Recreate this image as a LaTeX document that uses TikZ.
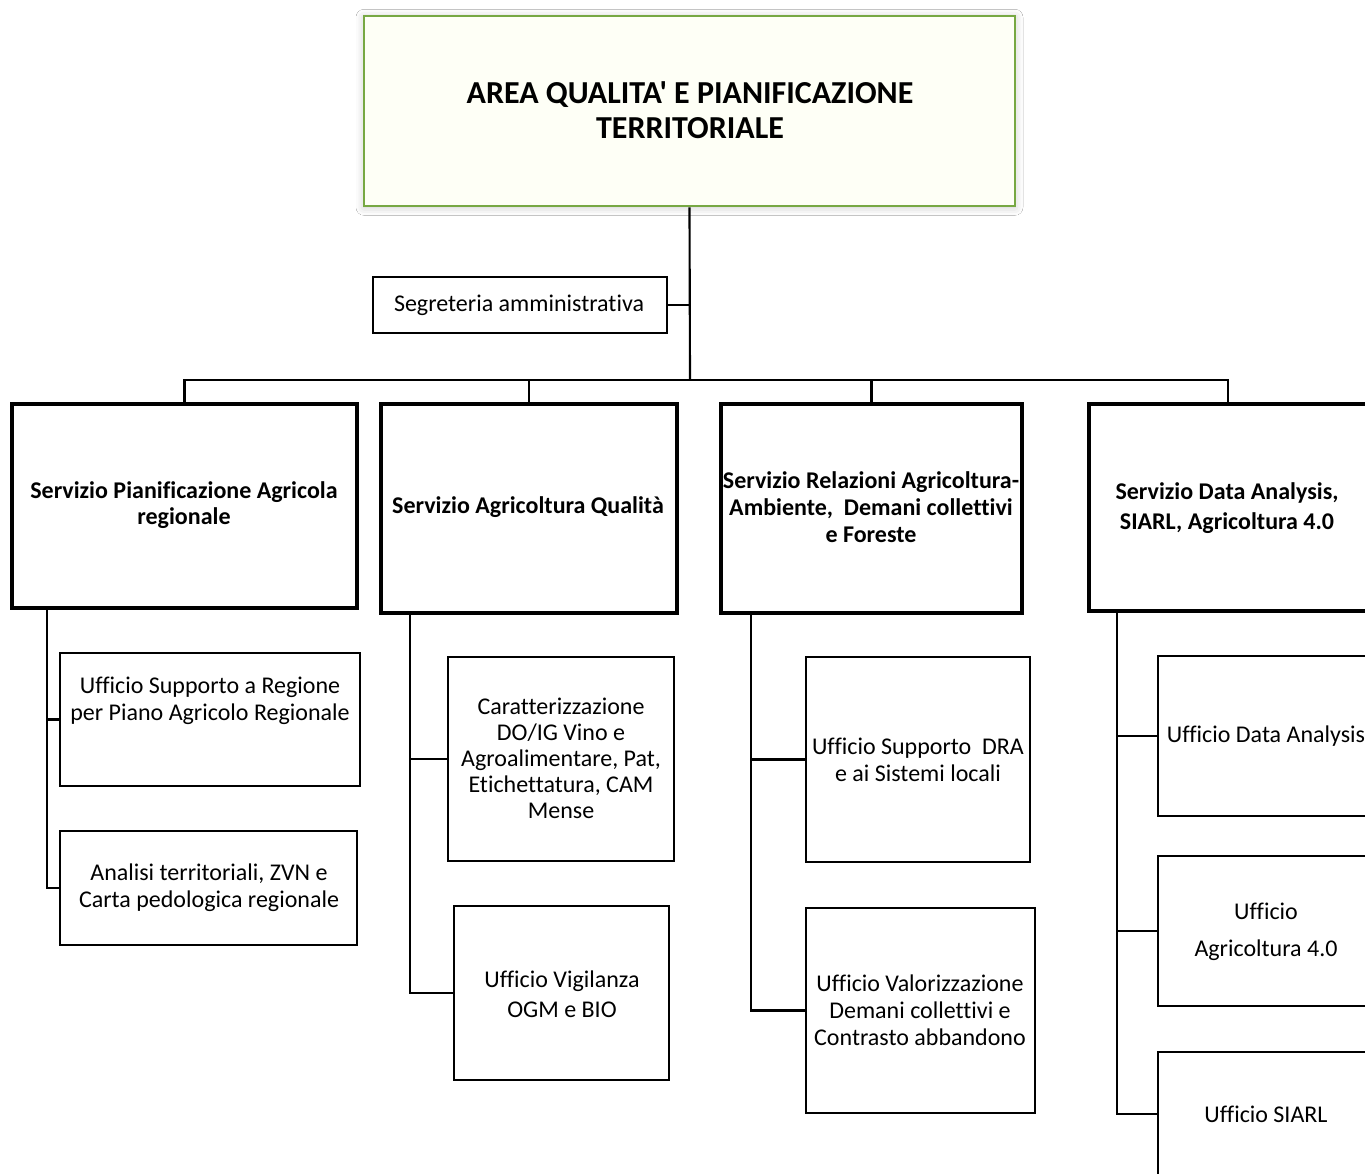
\documentclass[tikz,border=0pt]{standalone}
\usepackage{fontspec}
\setmainfont{Carlito}[Ligatures={TeXOff,NoCommon}]
\usetikzlibrary{fit,shadows.blur}
\definecolor{topgreen}{HTML}{77A843}
\definecolor{topfill}{HTML}{FEFFF6}
\tikzset{
  px/.style={x=0.75pt,y=-0.75pt},
  thinbox/.style={draw=black,line width=1.6pt,inner sep=0pt,fill=white},
  thickbox/.style={draw=black,line width=3.4pt,inner sep=0pt,fill=white},
  topbox/.style={draw=topgreen,line width=2.2pt,fill=topfill,inner sep=0pt,
     blur shadow={shadow xshift=0pt,shadow yshift=-1pt,shadow blur radius=6pt,shadow opacity=22}},
  conn/.style={draw=black,line width=1.6pt},
  txt/.style={align=center,inner sep=0pt,font=\fontsize{18}{20.2}\selectfont},
  btxt/.style={align=center,inner sep=0pt,font=\bfseries\fontsize{18}{19.5}\selectfont},
  ttxt/.style={align=center,inner sep=0pt,font=\bfseries\fontsize{24}{26}\selectfont},
}
\begin{document}
\begin{tikzpicture}[px]
\useasboundingbox (0,0) rectangle (1365,1174);
\clip (0,0) rectangle (1365,1174);
\fill[white] (0,0) rectangle (1365,1174);

% top
\node[topbox,fit={(364,16) (1015,206)}] (top) {};
\node[ttxt] (topt) at (690,110) {AREA QUALITA' E PIANIFICAZIONE\\TERRITORIALE};

% segreteria
\node[thinbox,fit={(373,277) (667,333)}] (seg) {};
\node[txt] (segt) at (519,305) {Segreteria amministrativa};

% services
\node[thickbox,fit={(12,404) (357,608)}] (s1) {};
\node[thickbox,fit={(381,404) (677,613)}] (s2) {};
\node[thickbox,fit={(721,404) (1022,613)}] (s3) {};
\node[thickbox,fit={(1089,404) (1367,611)}] (s4) {};
\node[btxt] (s1t) at (184,505) {Servizio Pianificazione Agricola\\regionale};
\node[btxt] (s2t) at (528,507) {Servizio Agricoltura Qualità};
\node[btxt,font=\bfseries\fontsize{18}{20}\selectfont] (s3t) at (871,507) {Servizio Relazioni Agricoltura-\\Ambiente,\ \ Demani collettivi\\e Foreste};
\node[btxt,font=\bfseries\fontsize{18}{22.5}\selectfont] (s4t) at (1227,508) {Servizio Data Analysis,\\SIARL, Agricoltura 4.0};

% offices
\node[thinbox,fit={(60,653) (360,786)}] (u1) {};
\node[thinbox,fit={(60,831) (357,945)}] (u2) {};
\node[thinbox,fit={(448,657) (674,861)}] (c1) {};
\node[thinbox,fit={(454,906) (669,1080)}] (c2) {};
\node[thinbox,fit={(806,657) (1030,862)}] (d1) {};
\node[thinbox,fit={(806,908) (1035,1113)}] (d2) {};
\node[thinbox,fit={(1158,656) (1375,816)}] (e1) {};
\node[thinbox,fit={(1158,856) (1375,1006)}] (e2) {};
\node[thinbox,fit={(1158,1052) (1375,1176)}] (e3) {};

\node[txt] (u1t) at (210,700.5) {Ufficio Supporto a Regione\\per Piano Agricolo Regionale};
\node[txt] (u2t) at (209,887.5) {Analisi territoriali, ZVN e\\Carta pedologica regionale};
\node[txt,font=\fontsize{18}{19.6}\selectfont] (c1t) at (561,758.5) {Caratterizzazione\\DO/IG Vino e\\Agroalimentare, Pat,\\Etichettatura, CAM\\Mense};
\node[txt,font=\fontsize{18}{22.5}\selectfont] (c2t) at (562,994) {Ufficio Vigilanza\\OGM e BIO};
\node[txt] (d1t) at (918,759.5) {Ufficio Supporto\ \ DRA\\e ai Sistemi locali};
\node[txt] (d2t) at (920,1010.5) {Ufficio Valorizzazione\\Demani collettivi e\\Contrasto abbandono};
\node[txt] (e1t) at (1266,736) {Ufficio Data Analysis};
\node[txt,font=\fontsize{18}{27.7}\selectfont] (e2t) at (1266,931.5) {Ufficio\\Agricoltura 4.0};
\node[txt] (e3t) at (1266,1114) {Ufficio SIARL};

% connectors
\coordinate (bar) at (690,380);
\draw[conn] (top.south) -- (bar);
\draw[conn] (seg.east) -- (seg.east -| top.south);
\draw[conn] (s1.north) |- (bar) -| (s4.north);
\draw[conn] (s2.north) -- (s2.north |- bar);
\draw[conn] (s3.north) -- (s3.north |- bar);

\coordinate (t1) at (47,608);
\coordinate (t2) at (410,613);
\coordinate (t3) at (751,613);
\coordinate (t4) at (1117,611);
\draw[conn] (t1) |- (u1.west);
\draw[conn] (t1) |- (u2.west);
\draw[conn] (t2) |- (c1.west);
\draw[conn] (t2) |- (c2.west);
\draw[conn] (t3) |- (d1.west);
\draw[conn] (t3) |- (d2.west);
\draw[conn] (t4) |- (e1.west);
\draw[conn] (t4) |- (e2.west);
\draw[conn] (t4) |- (e3.west);
\end{tikzpicture}
\end{document}
